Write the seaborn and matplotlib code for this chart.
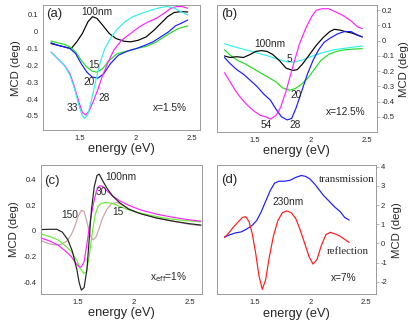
import numpy as np
import pandas as pd
import matplotlib
matplotlib.use("Agg")
import matplotlib.pyplot as plt
import seaborn as sns

# ---------------- data ----------------
# panel (a)  x=1.5%
a_black_x = [1.24, 1.30, 1.36, 1.42, 1.47, 1.52, 1.57, 1.61, 1.65, 1.70, 1.76, 1.82, 1.89, 1.95, 2.02, 2.09, 2.16, 2.22, 2.28, 2.34, 2.40, 2.46]
a_black_y = [-0.07, -0.08, -0.09, -0.10, -0.06, -0.01, 0.06, 0.09, 0.08, 0.04, -0.01, -0.04, -0.056, -0.06, -0.05, -0.03, 0.01, 0.05, 0.09, 0.115, 0.12, 0.118]
a_cyan_x = [1.24, 1.30, 1.36, 1.41, 1.45, 1.49, 1.52, 1.54, 1.57, 1.60, 1.64, 1.68, 1.72, 1.77, 1.83, 1.90, 1.97, 2.05, 2.14, 2.22, 2.28, 2.34, 2.40, 2.46]
a_cyan_y = [-0.12, -0.16, -0.20, -0.26, -0.34, -0.44, -0.50, -0.515, -0.49, -0.41, -0.29, -0.18, -0.10, -0.04, 0.015, 0.06, 0.09, 0.11, 0.13, 0.145, 0.15, 0.14, 0.12, 0.10]
a_mag_x = [1.24, 1.30, 1.36, 1.41, 1.45, 1.49, 1.52, 1.55, 1.58, 1.62, 1.66, 1.70, 1.75, 1.80, 1.87, 1.95, 2.03, 2.11, 2.18, 2.25, 2.31, 2.36, 2.41, 2.46]
a_mag_y = [-0.12, -0.16, -0.20, -0.25, -0.33, -0.42, -0.48, -0.495, -0.47, -0.41, -0.34, -0.26, -0.18, -0.11, -0.05, -0.01, 0.03, 0.06, 0.08, 0.11, 0.14, 0.15, 0.15, 0.14]
a_green_x = [1.24, 1.30, 1.36, 1.41, 1.46, 1.51, 1.56, 1.61, 1.65, 1.70, 1.76, 1.83, 1.92, 2.00, 2.10, 2.18, 2.25, 2.31, 2.38, 2.46]
a_green_y = [-0.055, -0.065, -0.075, -0.09, -0.12, -0.17, -0.21, -0.235, -0.24, -0.22, -0.17, -0.13, -0.115, -0.10, -0.085, -0.06, -0.03, -0.005, 0.02, 0.035]
a_blue_x = [1.24, 1.30, 1.36, 1.41, 1.46, 1.51, 1.56, 1.61, 1.66, 1.71, 1.77, 1.84, 1.92, 2.00, 2.08, 2.15, 2.22, 2.29, 2.35, 2.40, 2.46]
a_blue_y = [-0.065, -0.08, -0.09, -0.10, -0.13, -0.19, -0.24, -0.27, -0.275, -0.25, -0.19, -0.14, -0.115, -0.10, -0.08, -0.06, -0.03, 0.00, 0.035, 0.05, 0.07]

# panel (b)  x=12.5%
b_mag_x = [1.23, 1.28, 1.33, 1.37, 1.43, 1.49, 1.55, 1.60, 1.64, 1.69, 1.73, 1.78, 1.84, 1.90, 1.96, 2.01, 2.05, 2.10, 2.16, 2.22, 2.29, 2.36, 2.42, 2.46]
b_mag_y = [-0.21, -0.27, -0.33, -0.37, -0.42, -0.46, -0.49, -0.50, -0.515, -0.49, -0.44, -0.33, -0.17, -0.02, 0.09, 0.16, 0.20, 0.21, 0.21, 0.19, 0.165, 0.13, 0.09, 0.08]
b_blue_x = [1.23, 1.28, 1.34, 1.40, 1.46, 1.52, 1.58, 1.64, 1.69, 1.74, 1.79, 1.83, 1.87, 1.92, 1.97, 2.02, 2.07, 2.12, 2.18, 2.24, 2.30, 2.36, 2.41, 2.46]
b_blue_y = [-0.11, -0.15, -0.19, -0.22, -0.26, -0.30, -0.35, -0.39, -0.45, -0.50, -0.52, -0.51, -0.44, -0.33, -0.22, -0.13, -0.06, -0.01, 0.02, 0.045, 0.06, 0.06, 0.04, 0.025]
b_black_x = [1.23, 1.28, 1.34, 1.40, 1.46, 1.51, 1.56, 1.61, 1.66, 1.72, 1.78, 1.84, 1.88, 1.93, 1.99, 2.05, 2.11, 2.17, 2.21, 2.26, 2.31, 2.37, 2.42, 2.46]
b_black_y = [-0.10, -0.11, -0.105, -0.11, -0.09, -0.07, -0.065, -0.07, -0.09, -0.13, -0.18, -0.195, -0.19, -0.15, -0.09, -0.03, 0.02, 0.06, 0.075, 0.07, 0.06, 0.05, 0.035, 0.025]
b_cyan_x = [1.23, 1.32, 1.42, 1.52, 1.62, 1.72, 1.80, 1.86, 1.93, 2.00, 2.10, 2.20, 2.30, 2.40, 2.46]
b_cyan_y = [-0.02, -0.04, -0.06, -0.08, -0.10, -0.125, -0.14, -0.14, -0.125, -0.105, -0.08, -0.06, -0.05, -0.04, -0.035]
b_green_x = [1.23, 1.29, 1.35, 1.41, 1.48, 1.55, 1.62, 1.69, 1.75, 1.81, 1.86, 1.91, 1.97, 2.03, 2.09, 2.16, 2.23, 2.30, 2.38, 2.46]
b_green_y = [-0.06, -0.10, -0.13, -0.15, -0.18, -0.21, -0.24, -0.27, -0.31, -0.325, -0.315, -0.29, -0.25, -0.19, -0.13, -0.09, -0.07, -0.06, -0.055, -0.052]

# panel (c)  x_eff=1%
c_black_x = [1.17, 1.25, 1.31, 1.36, 1.41, 1.45, 1.49, 1.51, 1.53, 1.555, 1.58, 1.60, 1.62, 1.645, 1.67, 1.69, 1.72, 1.76, 1.81, 1.87, 1.95, 2.05, 2.20, 2.35, 2.50, 2.60]
c_black_y = [0.01, 0.012, 0.012, -0.01, -0.07, -0.16, -0.30, -0.40, -0.46, -0.44, -0.30, -0.07, 0.16, 0.34, 0.43, 0.44, 0.39, 0.33, 0.27, 0.22, 0.17, 0.135, 0.10, 0.075, 0.055, 0.045]
c_mag_x = [1.17, 1.25, 1.32, 1.38, 1.44, 1.48, 1.51, 1.53, 1.555, 1.58, 1.61, 1.64, 1.665, 1.69, 1.72, 1.76, 1.81, 1.87, 1.95, 2.05, 2.20, 2.35, 2.50, 2.60]
c_mag_y = [-0.055, -0.08, -0.11, -0.15, -0.20, -0.25, -0.28, -0.28, -0.24, -0.10, 0.08, 0.22, 0.31, 0.35, 0.345, 0.31, 0.27, 0.235, 0.20, 0.165, 0.13, 0.105, 0.085, 0.075]
c_green_x = [1.17, 1.25, 1.32, 1.38, 1.44, 1.49, 1.52, 1.55, 1.575, 1.60, 1.63, 1.655, 1.68, 1.71, 1.75, 1.80, 1.86, 1.93, 2.02, 2.15, 2.30, 2.45, 2.60]
c_green_y = [-0.025, -0.045, -0.07, -0.11, -0.16, -0.23, -0.29, -0.33, -0.32, -0.20, 0.00, 0.13, 0.19, 0.215, 0.22, 0.215, 0.195, 0.17, 0.145, 0.12, 0.095, 0.08, 0.07]
c_brown_x = [1.17, 1.24, 1.30, 1.35, 1.40, 1.44, 1.47, 1.50, 1.53, 1.555, 1.58, 1.61, 1.635, 1.66, 1.69, 1.72, 1.76, 1.80, 1.85, 1.90, 1.97, 2.06, 2.20, 2.35, 2.50, 2.60]
c_brown_y = [-0.075, -0.10, -0.11, -0.105, -0.08, -0.03, 0.03, 0.11, 0.16, 0.15, 0.07, -0.04, -0.07, -0.05, 0.02, 0.10, 0.17, 0.21, 0.22, 0.20, 0.165, 0.135, 0.10, 0.075, 0.05, 0.04]

# panel (d)  x=7%, 230nm
d_trans_x = [1.23, 1.28, 1.33, 1.38, 1.43, 1.48, 1.52, 1.56, 1.60, 1.64, 1.68, 1.72, 1.77, 1.82, 1.87, 1.92, 1.96, 2.00, 2.04, 2.08, 2.12, 2.17, 2.22, 2.27, 2.31, 2.35]
d_trans_y = [0.33, 0.45, 0.55, 0.60, 0.75, 0.95, 1.20, 1.65, 2.20, 2.75, 3.15, 3.25, 3.25, 3.30, 3.45, 3.55, 3.50, 3.35, 3.10, 2.80, 2.50, 2.20, 1.90, 1.65, 1.35, 1.22]
d_refl_x = [1.23, 1.27, 1.31, 1.35, 1.39, 1.42, 1.45, 1.48, 1.51, 1.54, 1.57, 1.60, 1.63, 1.67, 1.71, 1.75, 1.79, 1.83, 1.87, 1.91, 1.95, 1.99, 2.025, 2.06, 2.10, 2.14, 2.18, 2.22, 2.26, 2.30, 2.35]
d_refl_y = [0.30, 0.55, 0.85, 1.10, 1.35, 1.40, 1.15, 0.50, -0.50, -1.70, -2.40, -1.90, -0.80, 0.40, 1.20, 1.60, 1.70, 1.60, 1.30, 0.70, 0.00, -0.70, -1.08, -0.85, -0.10, 0.45, 0.58, 0.50, 0.40, 0.25, 0.05]

# ---------------- style ----------------
sns.set_style("white")
plt.rcParams["font.family"] = ["Liberation Sans", "DejaVu Sans"]
plt.rcParams["axes.unicode_minus"] = False

fig = plt.figure(figsize=(4.15, 3.27), dpi=100)
LW = 0.85
FRAME = "#9a9a9a"
TICKFS = 5.5
XLABFS = 9.2
YLABFS = 8.2
ANNFS = 7.3
SERIFFS = 7.8
PANFS = 9.5

def frame(ax, right=False):
    for s in ax.spines.values():
        s.set_color(FRAME)
        s.set_linewidth(0.7)
        s.set_visible(True)
    ax.tick_params(axis="both", direction="out", length=2, width=0.5, color=FRAME,
                   labelsize=TICKFS, pad=1.5)
    if right:
        ax.yaxis.tick_right()
        ax.yaxis.set_label_position("right")
    ax.set_xlabel("energy (eV)", fontsize=XLABFS, labelpad=1)
    ax.set_ylabel("MCD (deg)", fontsize=YLABFS, labelpad=3)

def line(ax, x, y, c):
    sns.lineplot(x=x, y=y, color=c, lw=LW, ax=ax, sort=False, estimator=None)

# (a)
ax = fig.add_axes([0.104, 0.602, 0.378, 0.382])
line(ax, a_black_x, a_black_y, "black")
line(ax, a_green_x, a_green_y, "#22dd22")
line(ax, a_blue_x, a_blue_y, "#1a1aff")
line(ax, a_mag_x, a_mag_y, "#ff22ff")
line(ax, a_cyan_x, a_cyan_y, "#33eeee")
ax.set_xlim(1.17, 2.57)
ax.set_ylim(-0.585, 0.158)
ax.set_xticks([1.5, 2, 2.5]); ax.set_xticklabels(["1.5", "2", "2.5"])
ax.set_yticks([0.1, 0, -0.1, -0.2, -0.3, -0.4, -0.5])
ax.set_yticklabels(["0.1", "0", "-0.1", "-0.2", "-0.3", "-0.4", "-0.5"])
frame(ax)
ax.text(1.20, 0.105, "(a)", fontsize=PANFS, va="center")
ax.text(1.65, 0.12, "100nm", fontsize=ANNFS, ha="center", va="center")
ax.text(1.62, -0.20, "15", fontsize=ANNFS, ha="center", va="center")
ax.text(1.58, -0.296, "20", fontsize=ANNFS, ha="center", va="center")
ax.text(1.71, -0.396, "28", fontsize=ANNFS, ha="center", va="center")
ax.text(1.43, -0.456, "33", fontsize=ANNFS, ha="center", va="center")
ax.text(2.30, -0.456, "x=1.5%", fontsize=ANNFS, ha="center", va="center")

# (b)
ax = fig.add_axes([0.522, 0.596, 0.386, 0.388])
line(ax, b_cyan_x, b_cyan_y, "#33eeee")
line(ax, b_green_x, b_green_y, "#22dd22")
line(ax, b_black_x, b_black_y, "black")
line(ax, b_blue_x, b_blue_y, "#1a1aff")
line(ax, b_mag_x, b_mag_y, "#ff22ff")
ax.set_xlim(1.16, 2.59)
ax.set_ylim(-0.60, 0.233)
ax.set_xticks([1.5, 2, 2.5]); ax.set_xticklabels(["1.5", "2", "2.5"])
ax.set_yticks([0.2, 0.1, 0, -0.1, -0.2, -0.3, -0.4, -0.5])
ax.set_yticklabels(["0.2", "0.1", "0", "-0.1", "-0.2", "-0.3", "-0.4", "-0.5"])
frame(ax, right=True)
ax.text(1.20, 0.177, "(b)", fontsize=PANFS, va="center")
ax.text(1.635, -0.02, "100nm", fontsize=ANNFS, ha="center", va="center")
ax.text(1.81, -0.12, "5", fontsize=ANNFS, ha="center", va="center")
ax.text(1.865, -0.355, "20", fontsize=ANNFS, ha="center", va="center")
ax.text(1.605, -0.556, "54", fontsize=ANNFS, ha="center", va="center")
ax.text(1.86, -0.556, "28", fontsize=ANNFS, ha="center", va="center")
ax.text(2.31, -0.47, "x=12.5%", fontsize=ANNFS, ha="center", va="center")

# (c)
ax = fig.add_axes([0.099, 0.101, 0.388, 0.394])
line(ax, c_brown_x, c_brown_y, "#c9a3a3")
line(ax, c_green_x, c_green_y, "#66ee33")
line(ax, c_mag_x, c_mag_y, "#ff22ff")
line(ax, c_black_x, c_black_y, "#222222")
ax.set_xlim(1.17, 2.61)
ax.set_ylim(-0.49, 0.51)
ax.set_xticks([1.5, 2, 2.5]); ax.set_xticklabels(["1.5", "2", "2.5"])
ax.set_yticks([0.4, 0.2, 0, -0.2, -0.4])
ax.set_yticklabels(["0.4", "0.2", "0", "-0.2", "-0.4"])
frame(ax)
ax.text(1.20, 0.39, "(c)", fontsize=PANFS, va="center")
ax.text(1.88, 0.42, "100nm", fontsize=ANNFS, ha="center", va="center")
ax.text(1.71, 0.30, "30", fontsize=ANNFS, ha="center", va="center")
ax.text(1.86, 0.147, "15", fontsize=ANNFS, ha="center", va="center")
ax.text(1.43, 0.12, "150", fontsize=ANNFS, ha="center", va="center")
ax.text(2.31, -0.356, r"x$_{\rm eff}$=1%", fontsize=ANNFS, ha="center", va="center")

# (d)
ax = fig.add_axes([0.522, 0.100, 0.384, 0.395])
line(ax, d_trans_x, d_trans_y, "#1a1aff")
line(ax, d_refl_x, d_refl_y, "#ff1a1a")
ax.set_xlim(1.16, 2.59)
ax.set_ylim(-2.66, 4.09)
ax.set_xticks([1.5, 2, 2.5]); ax.set_xticklabels(["1.5", "2", "2.5"])
ax.set_yticks([4, 3, 2, 1, 0, -1, -2])
ax.set_yticklabels(["4", "3", "2", "1", "0", "-1", "-2"])
frame(ax, right=True)
ax.text(1.20, 3.3, "(d)", fontsize=PANFS, va="center")
ax.text(2.33, 3.34, "transmission", fontsize=SERIFFS, ha="center", va="center",
        family=["Liberation Serif"])
ax.text(1.80, 2.17, "230nm", fontsize=ANNFS, ha="center", va="center")
ax.text(2.34, -0.40, "reflection", fontsize=SERIFFS, ha="center", va="center",
        family=["Liberation Serif"])
ax.text(2.30, -1.79, "x=7%", fontsize=ANNFS, ha="center", va="center")

fig.savefig("out.png", dpi=100)
